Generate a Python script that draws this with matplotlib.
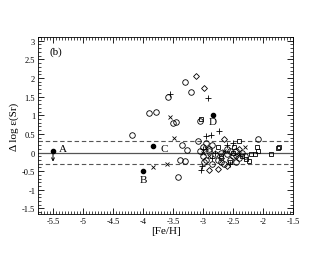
import numpy as np
import matplotlib
matplotlib.use('Agg')
import matplotlib.pyplot as plt
from matplotlib.ticker import MultipleLocator

plt.rcParams['font.family'] = ['Liberation Serif', 'DejaVu Serif']

# ---- data ----
circ_x = [-4.18, -3.90, -3.78, -3.58, -3.30, -3.20, -3.05, -3.50, -3.45, -3.35, -3.27, -3.38,
          -3.30, -3.42, -3.08, -2.08, -3.00, -2.95, -2.90, -2.85, -2.80, -3.00, -2.95, -2.85,
          -2.75, -2.70, -2.60, -2.55, -2.50, -2.45, -2.40, -2.35, -2.65, -2.90, -3.05, -2.98,
          -2.70, -2.55, -2.45, -2.30, -2.60]
circ_y = [0.46, 1.05, 1.10, 1.50, 1.90, 1.63, 0.85, 0.78, 0.82, 0.19, 0.08, -0.19,
          -0.24, -0.67, 0.32, 0.37, 0.15, 0.25, 0.05, 0.20, -0.05, -0.10, -0.20, -0.30,
          -0.20, 0.00, -0.05, 0.05, -0.10, -0.25, -0.15, 0.00, -0.30, 0.10, 0.05, -0.25,
          -0.25, -0.20, 0.05, -0.10, 0.10]

diam_x = [-3.12, -2.98, -2.65, -2.90, -2.75, -2.60, -2.45, -2.70, -2.40]
diam_y = [2.04, 1.72, 0.35, -0.46, -0.43, -0.35, -0.10, -0.15, 0.10]

plus_x = [-2.92, -2.73, -2.87, -2.95, -3.03, -3.02, -2.80, -2.55, -2.60, -3.00, -2.50, -2.85, -3.55]
plus_y = [1.45, 0.59, 0.46, 0.43, -0.46, -0.35, 0.00, -0.30, 0.20, 0.10, 0.25, -0.15, 1.58]

cross_x = [-3.55, -3.48, -3.83, -3.60, -3.00, -2.90, -2.65, -2.40, -2.30, -2.95]
cross_y = [0.95, 0.40, -0.38, -0.32, 0.00, -0.10, 0.05, -0.05, 0.15, 0.12]

sq_x = [-3.03, -2.40, -2.10, -2.08, -2.20, -2.13, -1.87, -1.75, -1.74, -2.23, -2.28,
        -2.48, -2.75, -2.55, -2.35, -2.70, -2.50]
sq_y = [0.90, 0.32, 0.16, 0.05, -0.03, -0.05, -0.05, 0.11, 0.14, -0.24, -0.18,
        0.16, 0.16, -0.25, -0.10, -0.10, 0.00]

star_x = [-5.50, -4.00, -3.83, -2.83]
star_y = [0.05, -0.50, 0.17, 1.02]
star_lab = ['A', 'B', 'C', 'D']
lab_x = [-5.33, -4.00, -3.65, -2.83]
lab_y = [0.12, -0.72, 0.12, 0.82]

fig = plt.figure(figsize=(3.3, 2.55), dpi=100)
ax = fig.add_axes([38 / 330, 40 / 255, 255 / 330, 177 / 255])

ax.axhline(0, color='#555555', lw=0.9)
ax.axhline(0.3, color='#555555', lw=0.8, ls='--', dashes=(4, 2.5))
ax.axhline(-0.3, color='#555555', lw=0.8, ls='--', dashes=(4, 2.5))

mk = dict(ls='none', mfc='none', mec='black', mew=0.6)
ax.plot(circ_x, circ_y, 'o', ms=4, **mk)
ax.plot(diam_x, diam_y, 'D', ms=3, **mk)
ax.plot(plus_x, plus_y, '+', ms=4, **mk)
ax.plot(cross_x, cross_y, 'x', ms=3, **mk)
ax.plot(sq_x, sq_y, 's', ms=3.5, **mk)
ax.plot(star_x, star_y, 'o', ms=3, color='black', ls='none')
ax.plot(star_x, star_y, (6, 2, 0), ms=4.5, mew=0.7, color='black', ls='none')

for sx, sy, lx, ly, t in zip(star_x, star_y, lab_x, lab_y, star_lab):
    ax.text(lx, ly, t, fontsize=8, ha='center', va='center')

# upper limit arrow on A
ax.annotate('', xy=(star_x[0], -0.32), xytext=(star_x[0], star_y[0]),
            arrowprops=dict(arrowstyle='->', lw=0.7, color='black', mutation_scale=5))

ax.set_xlim(-5.75, -1.5)
ax.set_ylim(-1.65, 3.1)
ax.xaxis.set_major_locator(MultipleLocator(0.5))
ax.xaxis.set_minor_locator(MultipleLocator(0.05))
ax.yaxis.set_major_locator(MultipleLocator(0.5))
ax.yaxis.set_minor_locator(MultipleLocator(0.1))
ax.tick_params(which='both', direction='in', top=True, right=True, labelsize=6, pad=2)
ax.tick_params(which='major', length=4, width=0.6)
ax.tick_params(which='minor', length=2, width=0.5)
ax.set_xticks([-5.5, -5, -4.5, -4, -3.5, -3, -2.5, -2, -1.5])
ax.set_xticklabels(['-5.5', '-5', '-4.5', '-4', '-3.5', '-3', '-2.5', '-2', '-1.5'])
ax.set_yticks([-1.5, -1, -0.5, 0, 0.5, 1, 1.5, 2, 2.5, 3])
ax.set_yticklabels(['-1.5', '-1', '-0.5', '0', '0.5', '1', '1.5', '2', '2.5', '3'])
for s in ax.spines.values():
    s.set_linewidth(0.6)

ax.set_xlabel('[Fe/H]', fontsize=8, labelpad=1)
ax.set_ylabel('Δ log ε(Sr)', fontsize=8, labelpad=2)
ax.text(0.045, 0.92, '(b)', transform=ax.transAxes, fontsize=8, va='center')

fig.savefig('out.png', dpi=100)
